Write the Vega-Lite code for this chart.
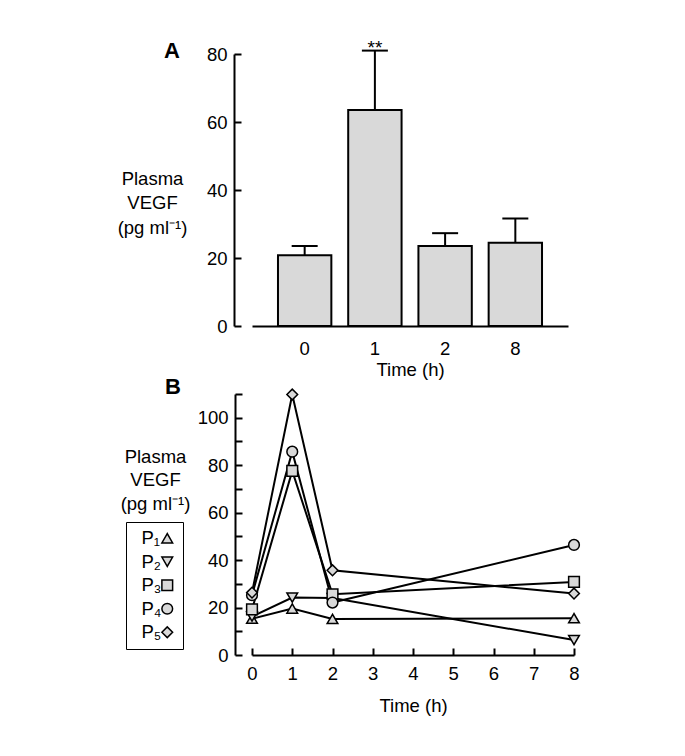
{
  "$schema": "https://vega.github.io/schema/vega-lite/v6.json",
  "padding": {"left": 117, "top": 38, "right": 5, "bottom": 5},
  "spacing": 68,
  "bounds": "flush",
  "config": {
    "font": "Liberation Sans",
    "view": {"stroke": null},
    "title": {"font": "Liberation Sans", "color": "black"},
    "legend": {"labelFont": "Liberation Sans"},
    "axis": {
      "labelFont": "Liberation Sans", "titleFont": "Liberation Sans",
      "labelFontSize": 18.5, "titleFontSize": 18.5,
      "labelColor": "black", "titleColor": "black",
      "domainColor": "black", "tickColor": "black",
      "domainWidth": 2, "tickWidth": 2, "titleFontWeight": "normal", "grid": false
    }
  },
  "vconcat": [
    {
      "width": 316,
      "height": 272,
      "title": {"text": "A", "anchor": "start", "frame": "group", "fontSize": 22, "fontWeight": "bold", "dx": -88, "offset": -41, "baseline": "alphabetic"},
      "data": {"values": [
        {"time": "0", "mean": 20.8, "upper": 23.5, "sig": ""},
        {"time": "1", "mean": 63.5, "upper": 81, "sig": "**"},
        {"time": "2", "mean": 23.5, "upper": 27.3, "sig": ""},
        {"time": "8", "mean": 24.5, "upper": 31.6, "sig": ""}
      ]},
      "encoding": {
        "x": {"field": "time", "type": "ordinal", "sort": ["0", "1", "2", "8"],
          "scale": {"paddingInner": 0.24, "paddingOuter": 0.37},
          "axis": {"title": "Time (h)", "labelAngle": 0, "ticks": false, "labelPadding": 13, "titlePadding": 3}}
      },
      "layer": [
        {
          "mark": {"type": "bar", "fill": "#d9d9d9", "stroke": "black", "strokeWidth": 2},
          "encoding": {
            "y": {"field": "mean", "type": "quantitative", "title": ["Plasma", "VEGF", "(pg ml⁻¹)"],
              "scale": {"domain": [0, 80], "nice": false},
              "axis": {"offset": 18, "tickSize": -7, "labelPadding": 14,
                "values": [0, 10, 20, 30, 40, 50, 60, 70, 80],
                "labelExpr": "datum.value % 20 == 0 ? datum.label : ''",
                "titleAngle": 0, "titleAlign": "center", "titleBaseline": "top",
                "titleX": -82, "titleY": 115, "titleLineHeight": 24.5}}
          }
        },
        {
          "mark": {"type": "rule", "strokeWidth": 2, "color": "black"},
          "encoding": {
            "y": {"field": "mean", "type": "quantitative", "title": ["Plasma", "VEGF", "(pg ml⁻¹)"]},
            "y2": {"field": "upper"}
          }
        },
        {
          "mark": {"type": "tick", "orient": "horizontal", "size": 26, "thickness": 2, "color": "black", "opacity": 1},
          "encoding": {
            "y": {"field": "upper", "type": "quantitative", "title": ["Plasma", "VEGF", "(pg ml⁻¹)"]}
          }
        },
        {
          "mark": {"type": "text", "baseline": "alphabetic", "dy": 3, "fontSize": 19, "color": "black"},
          "encoding": {
            "y": {"field": "upper", "type": "quantitative", "title": ["Plasma", "VEGF", "(pg ml⁻¹)"]},
            "text": {"field": "sig"}
          }
        }
      ]
    },
    {
      "width": 322,
      "height": 261,
      "title": {"text": "B", "anchor": "start", "frame": "group", "fontSize": 22, "fontWeight": "bold", "dx": -87, "offset": -30, "baseline": "alphabetic"},
      "data": {"values": [
        {"p": "P₁", "t": 0, "v": 15.3}, {"p": "P₁", "t": 1, "v": 19.6}, {"p": "P₁", "t": 2, "v": 15.2}, {"p": "P₁", "t": 8, "v": 15.5},
        {"p": "P₂", "t": 0, "v": 16.2}, {"p": "P₂", "t": 1, "v": 24.2}, {"p": "P₂", "t": 2, "v": 24.0}, {"p": "P₂", "t": 8, "v": 6.3},
        {"p": "P₃", "t": 0, "v": 19.2}, {"p": "P₃", "t": 1, "v": 77.6}, {"p": "P₃", "t": 2, "v": 25.6}, {"p": "P₃", "t": 8, "v": 30.8},
        {"p": "P₄", "t": 0, "v": 25.2}, {"p": "P₄", "t": 1, "v": 85.7}, {"p": "P₄", "t": 2, "v": 22.1}, {"p": "P₄", "t": 8, "v": 46.4},
        {"p": "P₅", "t": 0, "v": 26.3}, {"p": "P₅", "t": 1, "v": 109.8}, {"p": "P₅", "t": 2, "v": 35.7}, {"p": "P₅", "t": 8, "v": 25.9}
      ]},
      "encoding": {
        "x": {"field": "t", "type": "quantitative", "scale": {"domain": [0, 8], "nice": false},
          "axis": {"values": [0, 1, 2, 3, 4, 5, 6, 7, 8], "tickSize": -7, "labelPadding": 16,
            "title": "Time (h)", "titlePadding": 14, "labelFlush": false}},
        "y": {"field": "v", "type": "quantitative", "title": ["Plasma", "VEGF", "(pg ml⁻¹)"],
          "scale": {"domain": [0, 110], "nice": false},
          "axis": {"offset": 17, "tickSize": -7, "labelPadding": 14,
            "values": [0, 10, 20, 30, 40, 50, 60, 70, 80, 90, 100, 110],
            "labelExpr": "datum.value % 20 == 0 ? datum.label : ''",
            "titleAngle": 0, "titleAlign": "center", "titleBaseline": "top",
            "titleX": -80, "titleY": 53, "titleLineHeight": 23.5}}
      },
      "layer": [
        {
          "mark": {"type": "line", "color": "black", "strokeWidth": 2},
          "encoding": {"detail": {"field": "p", "type": "nominal"}}
        },
        {
          "mark": {"type": "point", "filled": true, "strokeWidth": 1.5, "size": 115, "opacity": 1, "fillOpacity": 1, "strokeOpacity": 1},
          "encoding": {
            "shape": {"field": "p", "type": "nominal",
              "scale": {"domain": ["P₁", "P₂", "P₃", "P₄", "P₅"], "range": ["triangle-up", "triangle-down", "square", "circle", "diamond"]},
              "legend": {"title": null, "orient": "none", "legendX": -126, "legendY": 468,
                "strokeColor": "black", "padding": 7,
                "labelFontSize": 18.5, "labelColor": "black", "labelAlign": "left", "labelOffset": -35,
                "symbolOffset": 25, "symbolSize": 115, "symbolStrokeWidth": 1.5, "rowPadding": 4.5}},
            "fill": {"field": "p", "type": "nominal",
              "scale": {"domain": ["P₁", "P₂", "P₃", "P₄", "P₅"], "range": ["#d9d9d9", "#d9d9d9", "#d9d9d9", "#d9d9d9", "#d9d9d9"]},
              "legend": {"title": null, "orient": "none", "legendX": -126, "legendY": 468,
                "strokeColor": "black", "padding": 7,
                "labelFontSize": 18.5, "labelColor": "black", "labelAlign": "left", "labelOffset": -35,
                "symbolOffset": 25, "symbolSize": 115, "symbolStrokeWidth": 1.5, "rowPadding": 4.5}},
            "stroke": {"field": "p", "type": "nominal",
              "scale": {"domain": ["P₁", "P₂", "P₃", "P₄", "P₅"], "range": ["black", "black", "black", "black", "black"]},
              "legend": {"title": null, "orient": "none", "legendX": -126, "legendY": 468,
                "strokeColor": "black", "padding": 7,
                "labelFontSize": 18.5, "labelColor": "black", "labelAlign": "left", "labelOffset": -35,
                "symbolOffset": 25, "symbolSize": 115, "symbolStrokeWidth": 1.5, "rowPadding": 4.5}}
          }
        }
      ]
    }
  ]
}
